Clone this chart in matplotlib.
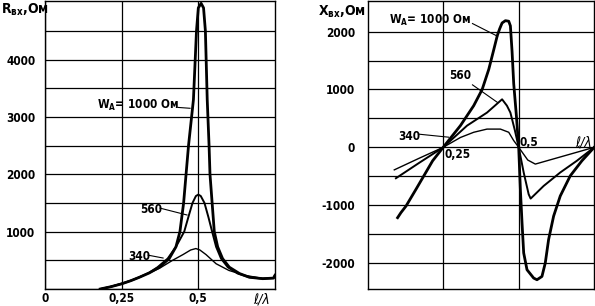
import matplotlib
matplotlib.use("Agg")
import matplotlib.pyplot as plt

plt.rcParams['font.family'] = ['DejaVu Sans']
plt.rcParams['font.stretch'] = 'condensed'
plt.rcParams['mathtext.fontset'] = 'custom'
plt.rcParams['mathtext.rm'] = 'DejaVu Sans:bold:stretch=condensed'

# ---- data: input resistance R (left panel) ----
r1000_x = [0.18, 0.215, 0.25, 0.28, 0.308, 0.34, 0.373, 0.405, 0.427, 0.44, 0.452, 0.46, 0.468,
           0.484, 0.494, 0.50, 0.509, 0.517, 0.523, 0.529, 0.535, 0.538, 0.545, 0.552, 0.563,
           0.579, 0.601, 0.634, 0.666, 0.71, 0.745, 0.75]
r1000_y = [0, 40, 90, 145, 205, 280, 380, 530, 735, 1000, 1500, 2000, 2500,
           3300, 4500, 4900, 4980, 4900, 4500, 3300, 2500, 2000, 1500, 1000, 735,
           530, 380, 270, 205, 180, 190, 240]

r560_x = [0.18, 0.215, 0.25, 0.28, 0.308, 0.34, 0.367, 0.40, 0.427, 0.454, 0.47, 0.481, 0.492,
          0.50, 0.508, 0.52, 0.533, 0.545, 0.558, 0.574, 0.596, 0.628, 0.666, 0.71, 0.745, 0.75]
r560_y = [0, 40, 90, 145, 205, 285, 380, 530, 735, 1000, 1300, 1500, 1620,
          1646, 1620, 1500, 1250, 1000, 735, 530, 380, 270, 205, 180, 190, 240]

r340_x = [0.18, 0.215, 0.25, 0.28, 0.308, 0.34, 0.373, 0.416, 0.45, 0.475, 0.492, 0.505,
          0.525, 0.558, 0.60, 0.655, 0.688, 0.71, 0.745, 0.75]
r340_y = [0, 45, 100, 150, 210, 280, 360, 500, 600, 680, 705, 680,
          600, 440, 323, 235, 205, 185, 190, 240]

# ---- data: input reactance X (right panel) ----
x1000_x = [0.099, 0.110, 0.127, 0.160, 0.215, 0.25, 0.307, 0.351, 0.379, 0.401, 0.418, 0.429,
           0.437, 0.445, 0.456, 0.467, 0.4725, 0.478, 0.4835, 0.4925, 0.50, 0.5055, 0.511,
           0.5165, 0.5275, 0.5495, 0.5605, 0.577, 0.588, 0.599, 0.6156, 0.6376, 0.6706,
           0.7093, 0.75]
x1000_y = [-1217, -1130, -1015, -725, -233, 0, 375, 720, 1000, 1350, 1700, 1930,
           2050, 2150, 2190, 2180, 2100, 1660, 1100, 535, 0, -725, -1304,
           -1826, -2117, -2261, -2290, -2233, -2000, -1595, -1190, -842, -494,
           -233, 0]

x560_x = [0.0934, 0.17, 0.25, 0.329, 0.395, 0.445, 0.461, 0.4725, 0.487, 0.50, 0.5165, 0.533,
          0.5395, 0.5826, 0.6376, 0.6926, 0.75]
x560_y = [-535, -270, 0, 375, 600, 830, 720, 600, 300, 0, -435, -812,
          -887, -668, -435, -233, 0]

x340_x = [0.088, 0.17, 0.25, 0.307, 0.351, 0.395, 0.4395, 0.467, 0.483, 0.50, 0.53, 0.555, 0.75]
x340_y = [-390, -190, 0, 170, 260, 315, 315, 260, 120, 0, -220, -290, 0]

r_ticks = [0, 500, 1000, 1500, 2000, 2500, 3000, 3500, 4000, 4500]
r_ticklabels = ['', '', '1000', '', '2000', '', '3000', '', '4000', '']
x_ticks = [-2000, -1500, -1000, -500, 0, 500, 1000, 1500, 2000]
x_ticklabels = ['-2000', '', '-1000', '', '0', '', '1000', '', '2000']
lx_ticks = [0, 0.25, 0.5]
lx_ticklabels = ['0', '0,25', '0,5']

FS = 8.5
fig = plt.figure(figsize=(5.95, 3.06), dpi=100)
axL = fig.add_axes([45/595, 17/306, 230/595, 288/306])
axR = fig.add_axes([367.7/595, 17/306, 226.5/595, 288/306])

for ax in (axL, axR):
    for s in ax.spines.values():
        s.set_linewidth(1.0)
    ax.tick_params(length=0, labelsize=FS)
    ax.grid(True, color='black', linewidth=0.9)
    ax.set_axisbelow(True)
    ax.set_xlim(0, 0.75)

# Left panel
axL.plot(r1000_x, r1000_y, color='black', lw=2.0)
axL.plot(r560_x, r560_y, color='black', lw=1.4)
axL.plot(r340_x, r340_y, color='black', lw=1.0)
axL.set_ylim(0, 5020)
axL.set_yticks(r_ticks)
axL.set_yticklabels(r_ticklabels, fontweight='bold')
axL.set_xticks(lx_ticks)
axL.set_xticklabels(lx_ticklabels, fontweight='bold')
axL.tick_params(axis='y', pad=7)
axL.tick_params(axis='x', pad=2)
axL.text(0.94, -0.037, 'ℓ/λ', transform=axL.transAxes, fontsize=10, fontstyle='italic',
         ha='center', va='center')
axL.text(-0.191, 0.969, 'R$_{\\mathregular{вх}}$,Ом', transform=axL.transAxes,
         fontsize=10, fontweight='bold', ha='left', va='center')
axL.text(0.168, 3200, 'W$_{\\mathregular{A}}$= 1000 Ом', fontsize=FS, fontweight='bold',
         ha='left', va='center')
axL.plot([0.434, 0.473], [3165, 3150], color='black', lw=0.8)
axL.text(0.31, 1390, '560', fontsize=FS, fontweight='bold', ha='left', va='center')
axL.plot([0.375, 0.463], [1410, 1290], color='black', lw=0.8)
axL.text(0.272, 570, '340', fontsize=FS, fontweight='bold', ha='left', va='center')
axL.plot([0.336, 0.385], [590, 540], color='black', lw=0.8)

# Right panel
axR.plot(x1000_x, x1000_y, color='black', lw=2.0)
axR.plot(x560_x, x560_y, color='black', lw=1.4)
axR.plot(x340_x, x340_y, color='black', lw=1.0)
axR.set_ylim(-2450, 2530)
axR.set_yticks(x_ticks)
axR.set_yticklabels(x_ticklabels, fontweight='bold')
axR.tick_params(axis='y', pad=9)
axR.set_xticks([0.25, 0.5])
axR.set_xticklabels([])
axR.text(-0.219, 0.962, 'X$_{\\mathregular{вх}}$,Ом', transform=axR.transAxes,
         fontsize=10, fontweight='bold', ha='left', va='center')
axR.text(0.07, 2200, 'W$_{\\mathregular{A}}$= 1000 Ом', fontsize=FS, fontweight='bold',
         ha='left', va='center')
axR.plot([0.347, 0.43], [2140, 1920], color='black', lw=0.8)
axR.text(0.27, 1240, '560', fontsize=FS, fontweight='bold', ha='left', va='center')
axR.plot([0.347, 0.43], [1080, 775], color='black', lw=0.8)
axR.text(0.1, 190, '340', fontsize=FS, fontweight='bold', ha='left', va='center')
axR.plot([0.168, 0.268], [228, 175], color='black', lw=0.8)
axR.text(0.253, -130, '0,25', fontsize=FS, fontweight='bold', ha='left', va='center')
axR.text(0.503, -25, '0,5', fontsize=FS, fontweight='bold', ha='left', va='bottom')
axR.text(0.742, -35, 'ℓ/λ', fontsize=10, fontstyle='italic', ha='right', va='bottom')

fig.savefig('out.png', dpi=100)
